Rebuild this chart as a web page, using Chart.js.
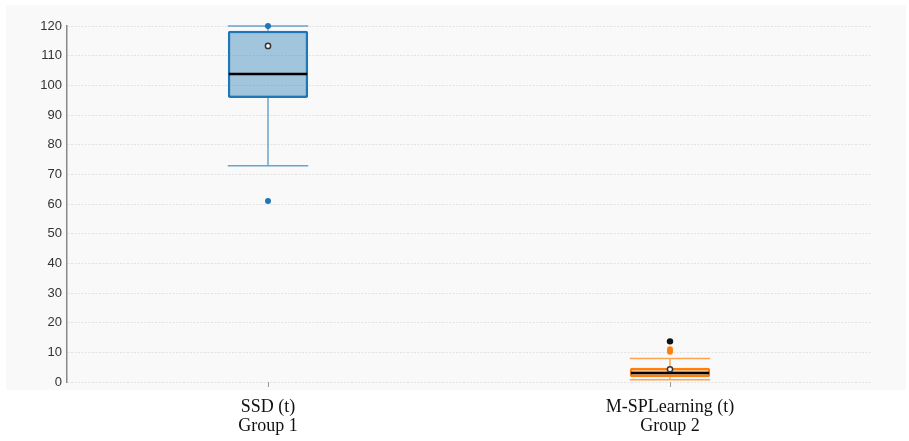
<!DOCTYPE html>
<html>
<head>
<meta charset="utf-8">
<script src="https://cdn.jsdelivr.net/npm/chart.js@4/dist/chart.umd.min.js"></script>
<style>
  html, body { margin: 0; padding: 0; background: #fff; }
  #wrap { width: 909px; height: 441px; }
</style>
</head>
<body>
<div id="wrap"><canvas id="boxChart" width="909" height="441"></canvas></div>
<script>
// box plot values
const categories = [['SSD (t)', 'Group 1'], ['M-SPLearning (t)', 'Group 2']];
const q1 = [95.7, 1.6];
const q3 = [118.4, 4.8];
const medians = [103.8, 3.0];
const means = [113.3, 4.3];
const whiskerLow = [72.9, 0.8];
const whiskerHigh = [120, 7.9];
const outliers = [[120, 61], [11.0, 10.2]];
const farOutliers = [[], [13.7]];
const yTicks = [0, 10, 20, 30, 40, 50, 60, 70, 80, 90, 100, 110, 120];

const lineColors = ['#1f77b4', '#ff7f0e'];
const fillColors = ['rgba(31, 119, 180, 0.4)', 'rgba(255, 127, 14, 0.5)'];
const whiskerColors = ['rgba(31, 119, 180, 0.65)', 'rgba(255, 127, 14, 0.7)'];

// panel background behind the plot and y labels
const panelBg = {
  id: 'panelBg',
  beforeDraw(chart) {
    const { ctx, chartArea } = chart;
    ctx.save();
    ctx.fillStyle = '#f9f9f9';
    ctx.fillRect(6, 5, chart.width - 9, chartArea.bottom + 8 - 5);
    ctx.restore();
  }
};

// whiskers, medians, means and outliers, placed with the chart scales
const boxExtras = {
  id: 'boxExtras',
  afterDatasetsDraw(chart) {
    const { ctx } = chart;
    const x = chart.scales.x, y = chart.scales.y;
    const meta = chart.getDatasetMeta(0);
    ctx.save();
    categories.forEach((c, i) => {
      const bar = meta.data[i];
      const half = bar.width / 2;
      const cx = x.getPixelForValue(i);
      // whiskers
      ctx.strokeStyle = whiskerColors[i];
      ctx.lineWidth = 1.5;
      ctx.beginPath();
      ctx.moveTo(cx, y.getPixelForValue(q3[i]));
      ctx.lineTo(cx, y.getPixelForValue(whiskerHigh[i]));
      ctx.moveTo(cx, y.getPixelForValue(q1[i]));
      ctx.lineTo(cx, y.getPixelForValue(whiskerLow[i]));
      ctx.moveTo(cx - half, y.getPixelForValue(whiskerHigh[i]));
      ctx.lineTo(cx + half, y.getPixelForValue(whiskerHigh[i]));
      ctx.moveTo(cx - half, y.getPixelForValue(whiskerLow[i]));
      ctx.lineTo(cx + half, y.getPixelForValue(whiskerLow[i]));
      ctx.stroke();
      // median
      ctx.strokeStyle = '#000';
      ctx.lineWidth = 2.5;
      ctx.beginPath();
      ctx.moveTo(cx - half + 1, y.getPixelForValue(medians[i]));
      ctx.lineTo(cx + half - 1, y.getPixelForValue(medians[i]));
      ctx.stroke();
      // outliers
      ctx.fillStyle = lineColors[i];
      outliers[i].forEach(v => {
        ctx.beginPath();
        ctx.arc(cx, y.getPixelForValue(v), 3, 0, Math.PI * 2);
        ctx.fill();
      });
      ctx.fillStyle = '#111';
      farOutliers[i].forEach(v => {
        ctx.beginPath();
        ctx.arc(cx, y.getPixelForValue(v), 3.2, 0, Math.PI * 2);
        ctx.fill();
      });
      // mean
      ctx.fillStyle = '#fff';
      ctx.strokeStyle = '#333';
      ctx.lineWidth = 1.5;
      ctx.beginPath();
      ctx.arc(cx, y.getPixelForValue(means[i]), 2.6, 0, Math.PI * 2);
      ctx.fill();
      ctx.stroke();
    });
    ctx.restore();
  }
};

const ctx = document.getElementById('boxChart').getContext('2d');
new Chart(ctx, {
  type: 'bar',
  data: {
    labels: categories,
    datasets: [{
      data: q1.map((v, i) => [v, q3[i]]),
      backgroundColor: fillColors,
      borderColor: lineColors,
      borderWidth: 2.5,
      borderSkipped: false,
      borderRadius: 2,
      barPercentage: 0.2,
      categoryPercentage: 1
    }]
  },
  options: {
    responsive: false,
    animation: false,
    layout: { padding: { top: 26, right: 38, left: 0, bottom: 0 } },
    plugins: {
      legend: { display: false },
      tooltip: { enabled: false }
    },
    scales: {
      y: {
        min: 0,
        max: 120,
        afterBuildTicks(scale) { scale.ticks = yTicks.map(v => ({ value: v })); },
        afterFit(scale) { scale.width = 67; },
        ticks: {
          color: '#333',
          padding: 5,
          font: { family: 'Liberation Sans', size: 13 }
        },
        grid: { color: '#e2e2e2', lineWidth: 1, drawTicks: false },
        border: { display: true, color: '#8a8a8a', width: 1.5, dash: [2, 1.5] }
      },
      x: {
        afterFit(scale) { scale.height = 59; },
        ticks: {
          color: '#111',
          padding: 10,
          font: { family: 'Liberation Serif', size: 18, lineHeight: 1.1 }
        },
        grid: { offset: false, drawOnChartArea: false, tickLength: 5, color: '#999' },
        border: { display: false }
      }
    }
  },
  plugins: [panelBg, boxExtras]
});
</script>
</body>
</html>
